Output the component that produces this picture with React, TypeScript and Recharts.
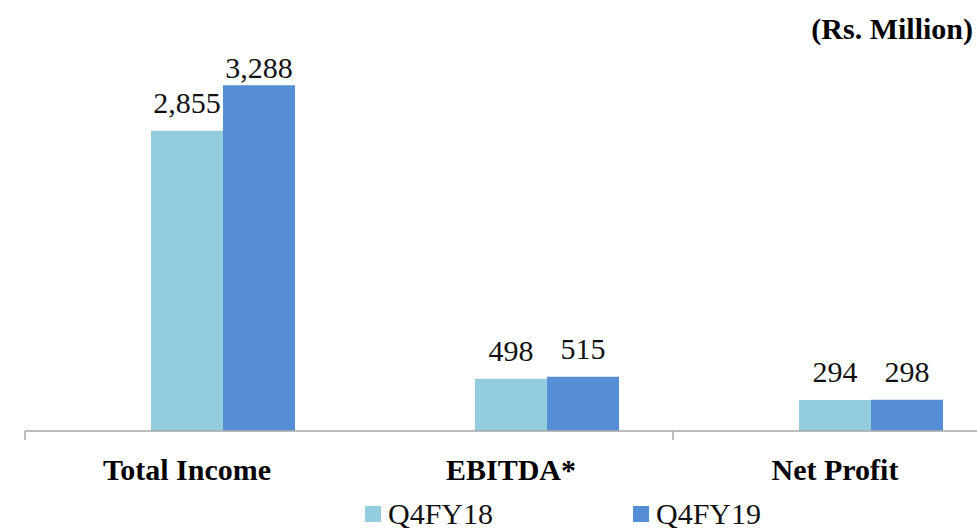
import React from "react";
import { BarChart, Bar, XAxis, YAxis, LabelList } from "recharts";

const categories = ["Total Income", "EBITDA*", "Net Profit"];
const q4fy18 = [2855, 498, 294];
const q4fy19 = [3288, 515, 298];
const seriesNames = ["Q4FY18", "Q4FY19"];
const seriesColors = ["#93CDDD", "#558ED5"];

const FONT = '"Liberation Serif", "Times New Roman", serif';
const CHART_W = 1000;
const PLOT_LEFT = 25;
const PLOT_RIGHT = 3;
const BAND = (CHART_W - PLOT_LEFT - PLOT_RIGHT) / categories.length;

// Excel layout keeps an empty slot on the left of every group
const data = categories.map((name, i) => ({
  name,
  spacer: null,
  q4fy18: q4fy18[i],
  q4fy19: q4fy19[i],
}));

function CategoryTick(props: any) {
  const { x, y, payload, index } = props;
  const left = x - BAND / 2;
  return (
    <g>
      {index % 2 === 0 && (
        <line x1={left} y1={y - 8} x2={left} y2={y + 1} stroke="#a6a6a6" strokeWidth={1.5} />
      )}
      <text
        x={x}
        y={y}
        dy={41}
        textAnchor="middle"
        fontFamily={FONT}
        fontWeight="bold"
        fontSize={30}
        fill="#000"
      >
        {payload.value}
      </text>
    </g>
  );
}

function ValueLabel(props: any) {
  const { x, y, width, value } = props;
  if (value == null) return null;
  const baseline = Math.max(y - 18, 78);
  return (
    <text
      x={x + width / 2}
      y={baseline}
      textAnchor="middle"
      fontFamily={FONT}
      fontSize={30}
      fill="#111"
    >
      {Number(value).toLocaleString("en-US")}
    </text>
  );
}

export default function App() {
  return (
    <div
      style={{
        position: "fixed",
        left: 0,
        top: 0,
        width: 977,
        height: 528,
        overflow: "hidden",
        background: "#fff",
      }}
    >
      <BarChart
        width={CHART_W}
        height={528}
        data={data}
        margin={{ top: 63, right: PLOT_RIGHT, left: PLOT_LEFT, bottom: 37 }}
        barGap={0}
        barCategoryGap={54}
      >
        <XAxis
          dataKey="name"
          height={60}
          axisLine={{ stroke: "#a6a6a6", strokeWidth: 1.5 }}
          tickLine={false}
          tick={<CategoryTick />}
          interval={0}
        />
        <YAxis hide domain={[0, 3500]} />
        <Bar dataKey="spacer" fill="none" legendType="none" isAnimationActive={false} />
        <Bar dataKey="q4fy18" name={seriesNames[0]} fill={seriesColors[0]} isAnimationActive={false}>
          <LabelList dataKey="q4fy18" content={<ValueLabel />} />
        </Bar>
        <Bar dataKey="q4fy19" name={seriesNames[1]} fill={seriesColors[1]} isAnimationActive={false}>
          <LabelList dataKey="q4fy19" content={<ValueLabel />} />
        </Bar>
      </BarChart>

      <div
        style={{
          position: "absolute",
          right: 4,
          top: 12,
          fontFamily: FONT,
          fontWeight: "bold",
          fontSize: 30,
          lineHeight: "34px",
          color: "#000",
        }}
      >
        (Rs. Million)
      </div>

      <div
        style={{
          position: "absolute",
          left: 365,
          top: 497,
          display: "flex",
          fontFamily: FONT,
          fontSize: 30,
          lineHeight: "34px",
          color: "#111",
        }}
      >
        {seriesNames.map((s, i) => (
          <div key={s} style={{ display: "flex", alignItems: "center", width: 268 }}>
            <span
              style={{
                display: "inline-block",
                width: 16,
                height: 16,
                background: seriesColors[i],
                marginRight: 7,
              }}
            />
            <span>{s}</span>
          </div>
        ))}
      </div>
    </div>
  );
}
